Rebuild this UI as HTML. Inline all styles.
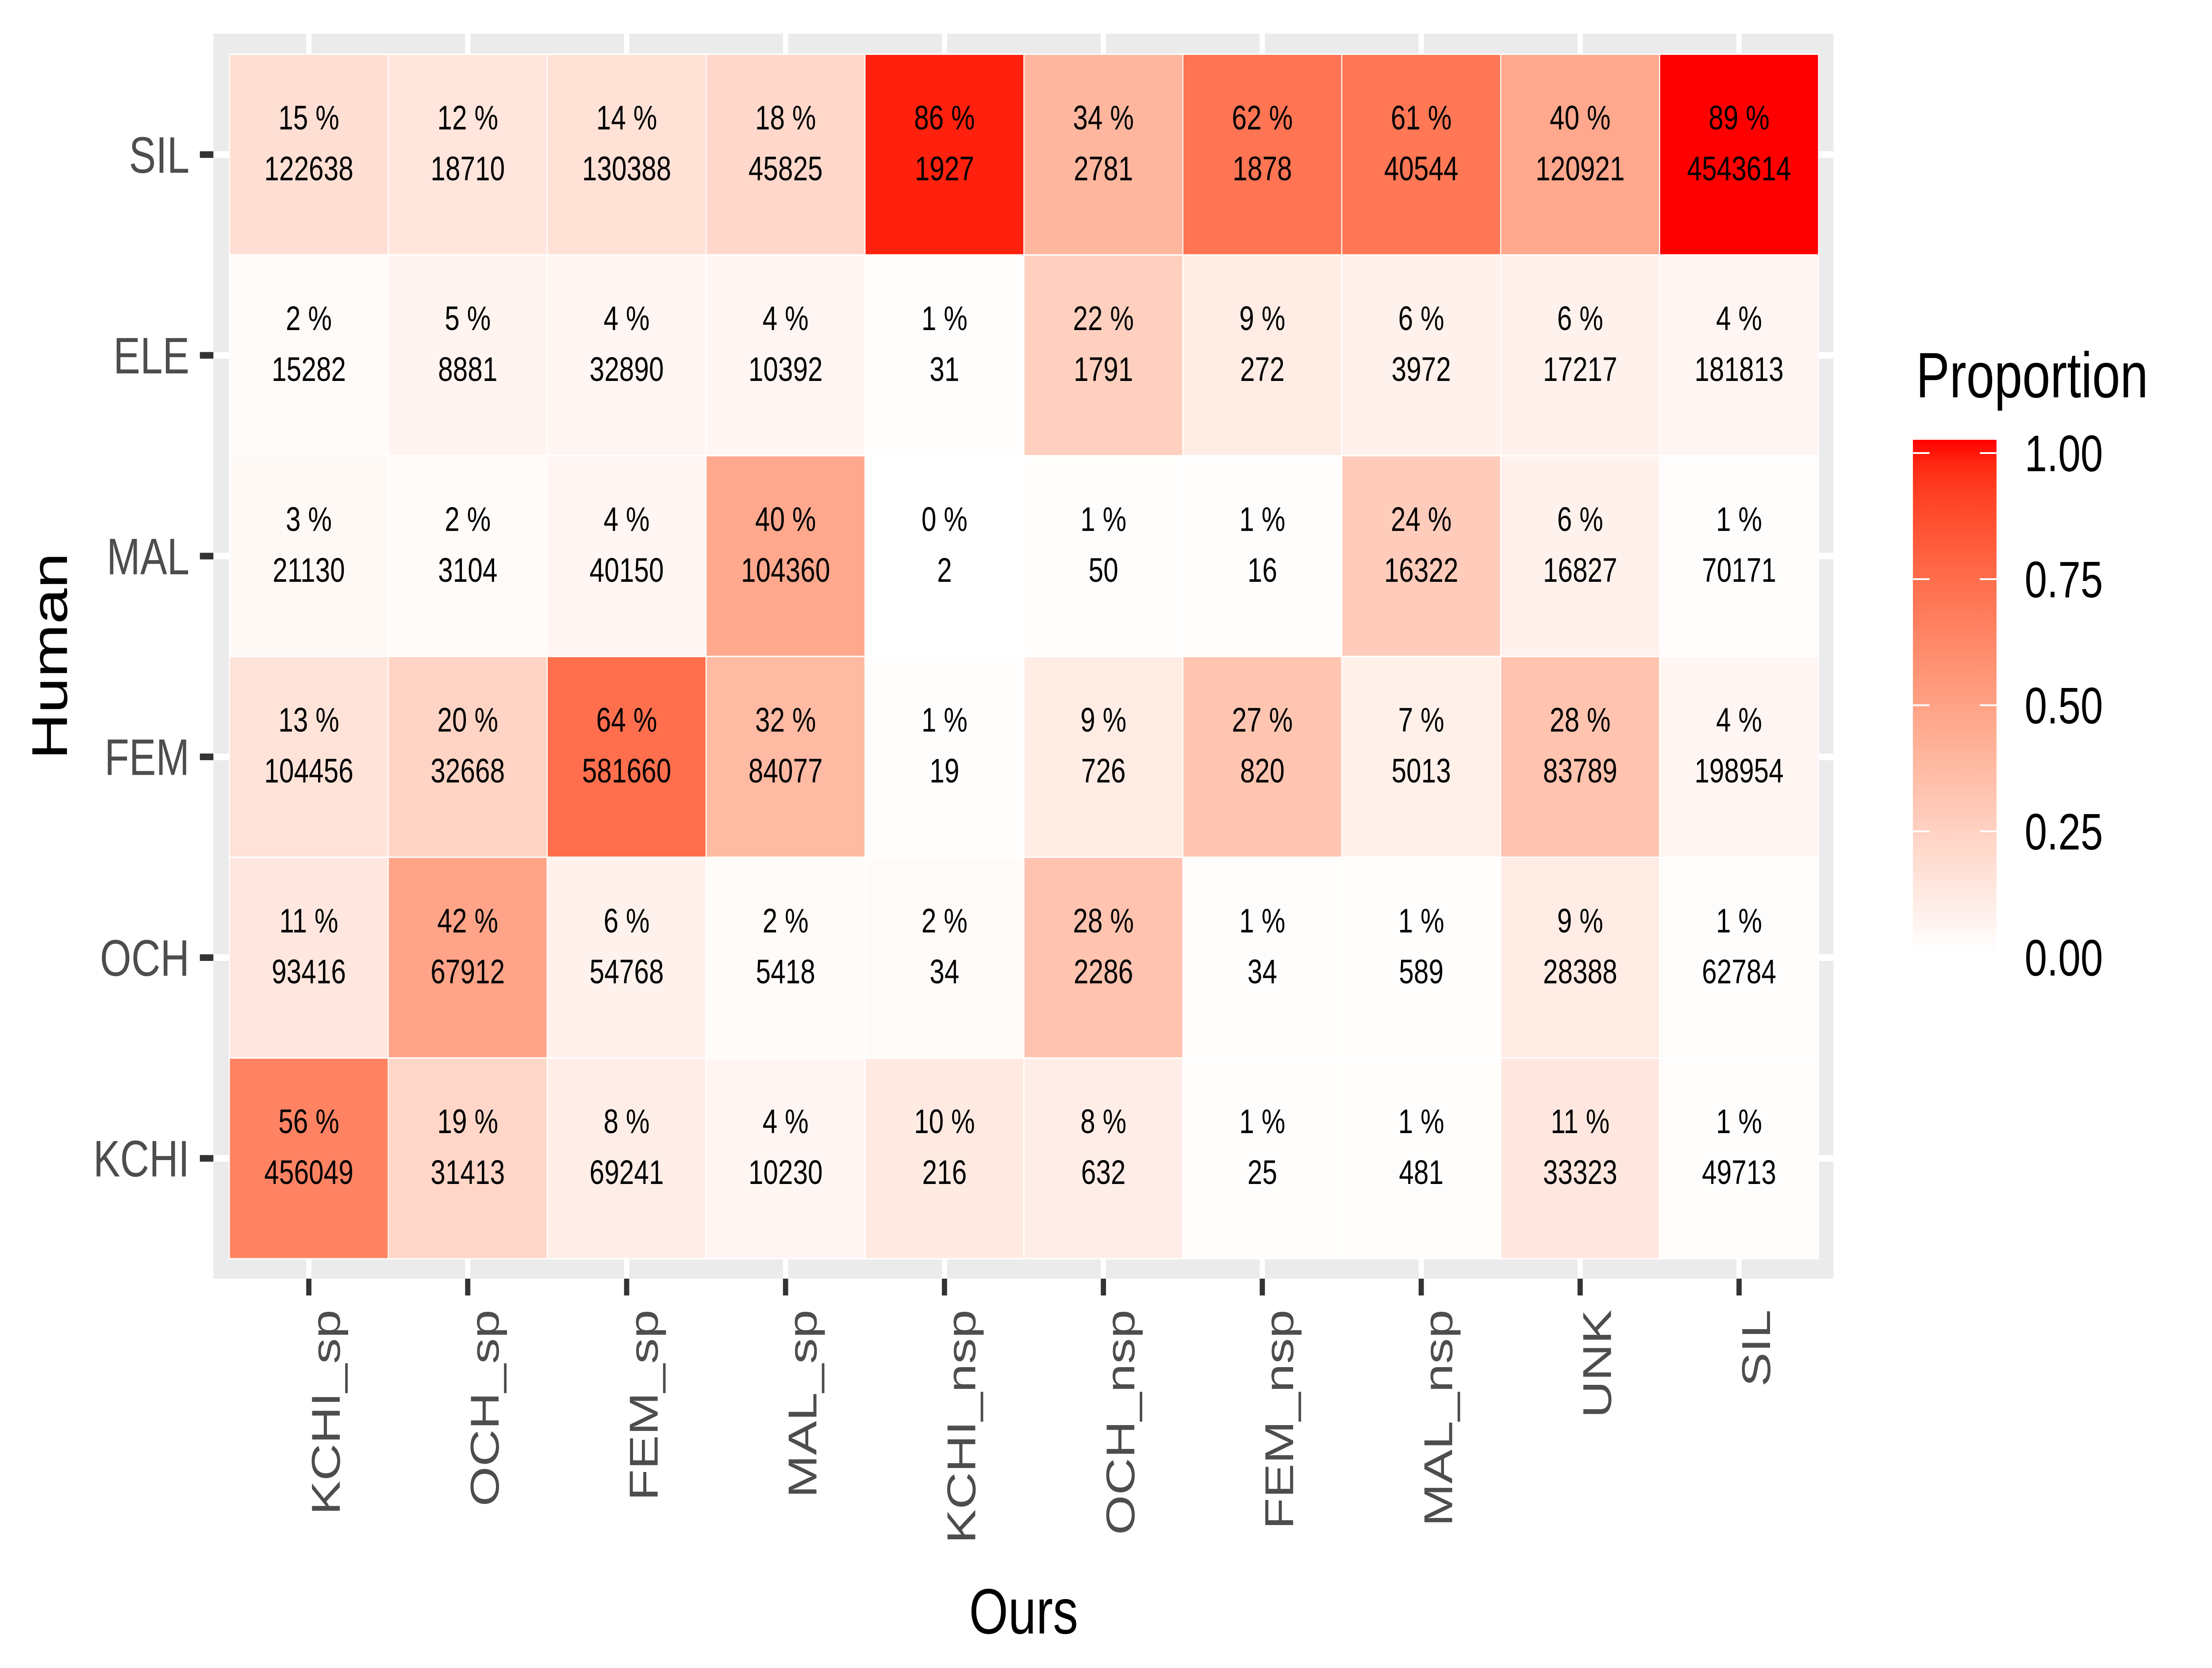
<!DOCTYPE html>
<html><head><meta charset="utf-8"><title>Confusion heatmap</title>
<style>html,body{margin:0;padding:0;background:#fff;overflow:hidden;width:100%;height:100%}svg{display:block;width:100vw;height:100vh}text{font-family:"Liberation Sans",Arial,sans-serif}</style>
</head><body>
<svg id="chart" viewBox="0 0 6375 3770" preserveAspectRatio="none" xmlns="http://www.w3.org/2000/svg">
<rect x="0" y="0" width="6375" height="3770" fill="#fff"/>
<rect x="615" y="76" width="4669" height="2814" fill="#EBEBEB"/>
<g id="grid"></g>
<g id="tiles"></g>
<g id="xaxis"></g>
<g id="yaxis"></g>
<text x="2950" y="3692" font-size="145" text-anchor="middle" fill="#000">Ours</text>
<text transform="translate(193,1483) rotate(-90)" font-size="145" text-anchor="middle" fill="#000">Human</text>
<g id="legend">
<text x="5522" y="898" font-size="145" fill="#000">Proportion</text>
<defs><linearGradient id="lg" x1="0" y1="1" x2="0" y2="0"></linearGradient></defs>
</g>
</svg>
<script>
const cols = ["KCHI_sp","OCH_sp","FEM_sp","MAL_sp","KCHI_nsp","OCH_nsp","FEM_nsp","MAL_nsp","UNK","SIL"];
const rows = ["SIL","ELE","MAL","FEM","OCH","KCHI"];
const pctSIL  = [15,12,14,18,86,34,62,61,40,89];
const pctELE  = [2,5,4,4,1,22,9,6,6,4];
const pctMAL  = [3,2,4,40,0,1,1,24,6,1];
const pctFEM  = [13,20,64,32,1,9,27,7,28,4];
const pctOCH  = [11,42,6,2,2,28,1,1,9,1];
const pctKCHI = [56,19,8,4,10,8,1,1,11,1];
const cntSIL  = [122638,18710,130388,45825,1927,2781,1878,40544,120921,4543614];
const cntELE  = [15282,8881,32890,10392,31,1791,272,3972,17217,181813];
const cntMAL  = [21130,3104,40150,104360,2,50,16,16322,16827,70171];
const cntFEM  = [104456,32668,581660,84077,19,726,820,5013,83789,198954];
const cntOCH  = [93416,67912,54768,5418,34,2286,34,589,28388,62784];
const cntKCHI = [456049,31413,69241,10230,216,632,25,481,33323,49713];
const legendTicks = [0,0.25,0.5,0.75,1];
const legendLabels = ["0.00","0.25","0.50","0.75","1.00"];

const pctRows = [pctSIL,pctELE,pctMAL,pctFEM,pctOCH,pctKCHI];
const cntRows = [cntSIL,cntELE,cntMAL,cntFEM,cntOCH,cntKCHI];
const maxPct = Math.max(...pctRows.flat());
const NS="http://www.w3.org/2000/svg";
const X0=661, CW=458, Y0=122.5, RH=453.75;
function xc(i){return X0+CW*(i+0.5);}
function yc(j){return Y0+RH*(j+0.5);}
function lab2rgb(L,a,b){
  let fy=(L+16)/116, fx=fy+a/500, fz=fy-b/200;
  const f=t=>t**3>0.008856?t**3:(t-16/116)/7.787;
  let X=0.95047*f(fx),Y=f(fy),Z=1.08883*f(fz);
  let r=3.2406*X-1.5372*Y-0.4986*Z,g=-0.9689*X+1.8758*Y+0.0415*Z,bb=0.0557*X-0.2040*Y+1.0570*Z;
  const gm=c=>{c=c>0.0031308?1.055*Math.pow(c,1/2.4)-0.055:12.92*c;return Math.max(0,Math.min(255,Math.round(c*255)));};
  return "rgb("+gm(r)+","+gm(g)+","+gm(bb)+")";
}
function fillOf(v){v=Math.max(0,Math.min(1,v));return lab2rgb(100+(53.24-100)*v,80.09*v,67.20*v);}
function mk(tag,attrs,parent){const e=document.createElementNS(NS,tag);for(const k in attrs)e.setAttribute(k,attrs[k]);parent.appendChild(e);return e;}

const grid=document.getElementById('grid');
cols.forEach((c,i)=>{const l=mk('line',{x1:xc(i),x2:xc(i),y1:76,y2:2890,stroke:'#fff','stroke-width':15},grid);

});
rows.forEach((r,j)=>{const l=mk('line',{x1:615,x2:5284,y1:yc(j),y2:yc(j),stroke:'#fff','stroke-width':15},grid);

});

const tiles=document.getElementById('tiles');
rows.forEach((r,j)=>{cols.forEach((c,i)=>{
  const v=pctRows[j][i]/maxPct;
  const g=mk('g',{},tiles);
  
  
  mk('rect',{x:X0+CW*i,y:Y0+RH*j,width:CW,height:RH,fill:fillOf(v),stroke:'#fff','stroke-width':3},g);
  const t1=mk('text',{x:xc(i),y:yc(j)-57,'font-size':77,'text-anchor':'middle',fill:'#000'},g);
  t1.textContent=pctRows[j][i]+" %";
  
  
  const t2=mk('text',{x:xc(i),y:yc(j)+58,'font-size':77,'text-anchor':'middle',fill:'#000'},g);
  t2.textContent=String(cntRows[j][i]);
  
  
});});

const xa=document.getElementById('xaxis');
cols.forEach((c,i)=>{
  const tk=mk('line',{x1:xc(i),x2:xc(i),y1:2890,y2:2928,stroke:'#333','stroke-width':15},xa);
  
  
  const t=mk('text',{transform:'translate('+(xc(i)+89)+',2960) rotate(-90)','font-size':116,'text-anchor':'end',fill:'#4D4D4D'},xa);
  t.textContent=c;
  
  
});
const ya=document.getElementById('yaxis');
rows.forEach((r,j)=>{
  const tk=mk('line',{x1:576,x2:615,y1:yc(j),y2:yc(j),stroke:'#333','stroke-width':15},ya);
  
  
  const t=mk('text',{x:546,y:yc(j)+41,'font-size':116,'text-anchor':'end',fill:'#4D4D4D'},ya);
  t.textContent=r;
  
  
});

const lg=document.getElementById('legend');
const grad=document.getElementById('lg');
for(let k=0;k<=20;k++){mk('stop',{offset:(k/20),'stop-color':fillOf(k/20)},grad);}
const LB0=1024, LB1=2164, LX=5513, LW=241;
function ly(v){return LB1+(LB0-LB1)*v;}
const bar=mk('rect',{x:LX,y:994,width:LW,height:1159,fill:'url(#lg)'},lg);


legendTicks.forEach((v,k)=>{
  if(ly(v)<2153){
    const a=mk('line',{x1:LX,x2:LX+48,y1:ly(v),y2:ly(v),stroke:'#fff','stroke-width':4},lg);
    
    
    const b=mk('line',{x1:LX+LW-48,x2:LX+LW,y1:ly(v),y2:ly(v),stroke:'#fff','stroke-width':4},lg);
    
    
  }
  const t=mk('text',{x:5835,y:ly(v)+41,'font-size':116,fill:'#000'},lg);
  t.textContent=legendLabels[k];
  
  
});
</script>
</body></html>
